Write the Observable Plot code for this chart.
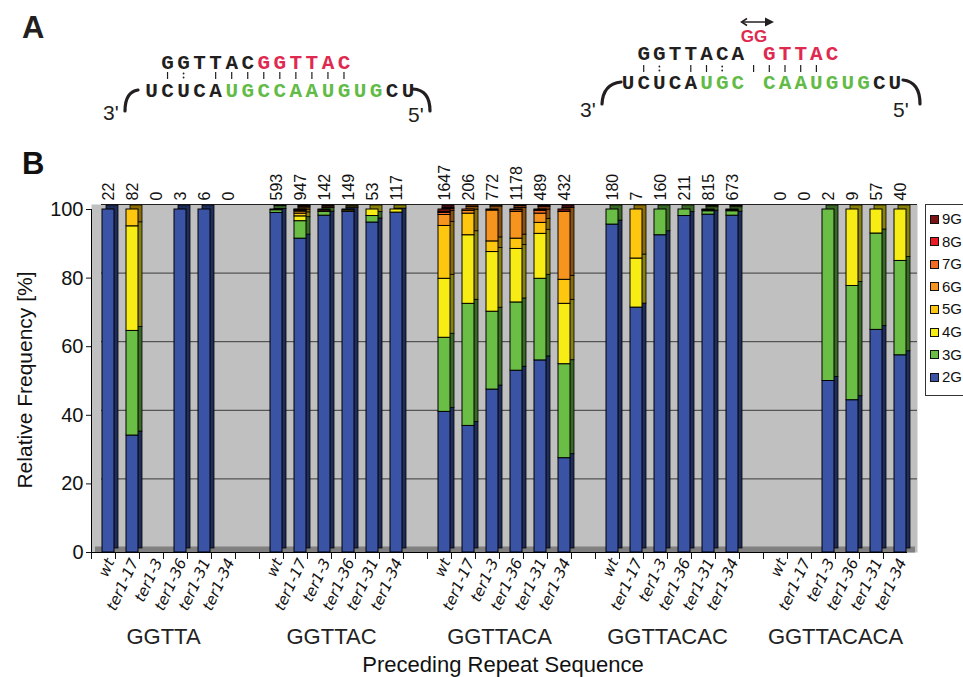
<!DOCTYPE html>
<html>
<head>
<meta charset="utf-8">
<script src="https://cdn.jsdelivr.net/npm/d3@7"></script>
<script src="https://cdn.jsdelivr.net/npm/@observablehq/plot@0.6"></script>
<style>
  html, body { margin: 0; padding: 0; background: #fff; }
  #page { position: relative; width: 963px; height: 677px; overflow: hidden; font-family: 'Liberation Sans', Arial, sans-serif; color: #111; }
  .abs { position: absolute; }
  .panel { font-weight: bold; font-size: 31px; }
  #legend { position: absolute; left: 925px; top: 204px; width: 50px; height: 192px; border: 1px solid #333; background: #fff; box-sizing: border-box; }
  .lg-row { position: absolute; left: 4px; font-size: 15px; line-height: 16px; height: 16px; display: flex; align-items: center; }
  .lg-sw { width: 7px; height: 7px; border: 1px solid #111; margin-right: 3px; }
</style>
</head>
<body>
<div id="page">
  <svg id="panelA" class="abs" style="left:0;top:0" width="963" height="150"></svg>
  <div id="chart" class="abs" style="left:0;top:150px"></div>
  <div class="abs panel" style="left:22px;top:146px">B</div>
  <div class="abs" style="left:25px;top:380px;transform:translate(-50%,-50%) rotate(-90deg);font-size:21px;white-space:nowrap">Relative Frequency [%]</div>
  <div class="abs" style="left:503px;top:665px;transform:translate(-50%,-50%);font-size:22px;white-space:nowrap">Preceding Repeat Sequence</div>
  <div id="legend"></div>
</div>
<script>
// ---------------- data ----------------
const groups = ["GGTTA", "GGTTAC", "GGTTACA", "GGTTACAC", "GGTTACACA"];
const strains = ["wt", "ter1-17", "ter1-3", "ter1-36", "ter1-31", "ter1-34"];
const sizes = ["2G", "3G", "4G", "5G", "6G", "7G", "8G", "9G"];
const sizeColors = ["#3a53a4", "#6abd45", "#f7ec13", "#fdc70f", "#f7941d", "#f26a24", "#ec1c24", "#7d1517"];

// number of sequenced junctions (labels above bars), group by group
const counts = [
  22, 82, 0, 3, 6, 0,
  593, 947, 142, 149, 53, 117,
  1647, 206, 772, 1178, 489, 432,
  180, 7, 160, 211, 815, 673,
  0, 0, 2, 9, 57, 40
];

// relative frequency [%] per G-run length, same order as counts
const p2G = [100, 34.1, 0, 100, 100, 0,   99.0, 91.5, 98.2, 99.3, 96.2, 99.1,   41.0, 36.9, 47.5, 53.0, 56.0, 27.5,   95.6, 71.4, 92.5, 98.1, 98.5, 98.2,   0, 0, 50, 44.4, 64.9, 57.5];
const p3G = [0, 30.5, 0, 0, 0, 0,         0.8, 5.1, 1.1, 0, 1.9, 0,             21.6, 35.6, 22.7, 19.9, 23.8, 27.4,   4.4, 0, 7.5, 1.9, 1.0, 1.3,           0, 0, 50, 33.3, 28.1, 27.5];
const p4G = [0, 30.5, 0, 0, 0, 0,         0.2, 1.4, 0, 0.4, 1.9, 0.9,           17.2, 20.0, 17.4, 15.6, 13.1, 17.6,   0, 14.3, 0, 0, 0.3, 0.3,              0, 0, 0, 22.3, 7.0, 15.0];
const p5G = [0, 4.9, 0, 0, 0, 0,          0, 0.8, 0, 0.3, 0, 0,                 15.4, 6.3, 3.1, 3.0, 3.2, 7.0,        0, 14.3, 0, 0, 0, 0,                  0, 0, 0, 0, 0, 0];
const p6G = [0, 0, 0, 0, 0, 0,            0, 0.6, 0, 0, 0, 0,                   3.2, 0.8, 9.0, 7.8, 2.7, 19.8,        0, 0, 0, 0, 0, 0,                     0, 0, 0, 0, 0, 0];
const p7G = [0, 0, 0, 0, 0, 0,            0, 0.3, 0.4, 0, 0, 0,                 0.6, 0.4, 0.3, 0.5, 0.8, 0,           0, 0, 0, 0, 0, 0,                     0, 0, 0, 0, 0, 0];
const p8G = [0, 0, 0, 0, 0, 0,            0, 0.2, 0, 0, 0, 0,                   0.3, 0, 0, 0.2, 0.2, 0,               0, 0, 0, 0, 0, 0,                     0, 0, 0, 0, 0, 0];
const p9G = [0, 0, 0, 0, 0, 0,            0, 0.1, 0.3, 0, 0, 0,                 0.7, 0, 0, 0, 0.2, 0.7,               0, 0, 0, 0, 0.2, 0.2,                 0, 0, 0, 0, 0, 0];

const yTicks = [0, 20, 40, 60, 80, 100];

// ---------------- tables ----------------
const pct = {"2G": p2G, "3G": p3G, "4G": p4G, "5G": p5G, "6G": p6G, "7G": p7G, "8G": p8G, "9G": p9G};
const keyOf = (g, s) => `${g}|${s}`;
const rows = [];
const countRows = [];
const xDomain = [];
groups.forEach((g, gi) => {
  if (gi > 0) xDomain.push(`gap${gi}`);
  strains.forEach((s, si) => {
    const k = gi * strains.length + si;
    xDomain.push(keyOf(g, s));
    countRows.push({key: keyOf(g, s), n: counts[k]});
    sizes.forEach(sz => {
      const v = pct[sz][k];
      if (v > 0) rows.push({key: keyOf(g, s), group: g, strain: s, size: sz, value: v});
    });
  });
});
const groupRows = groups.map(g => ({group: g, key: keyOf(g, strains[2])}));

// ---------------- chart ----------------
const chart = Plot.plot({
  width: 963,
  height: 527,
  marginTop: 59,
  marginBottom: 125,
  marginLeft: 91,
  marginRight: 56,
  style: {fontFamily: "'Liberation Sans', Arial, sans-serif", fontSize: "16px", background: "transparent", overflow: "visible", color: "#111"},
  x: {type: "band", domain: xDomain, paddingInner: 0.5, paddingOuter: 0.25},
  y: {domain: [0, 100]},
  color: {domain: sizes, range: sizeColors},
  marks: [
    Plot.frame({fill: "#c0c0c0", stroke: null, insetTop: -5, insetRight: -10}),
    Plot.ruleY([0], {stroke: "#808080", strokeWidth: 6, dy: -3, insetLeft: 4, insetRight: -8}),
    Plot.ruleY([20, 40, 60, 80], {stroke: "#3a3a3a", strokeWidth: 1, dy: -5, insetLeft: 10, insetRight: -10}),
    Plot.ruleY([100], {stroke: "#222", strokeWidth: 1, dy: -5, insetLeft: 10, insetRight: -10}),
    // 3D side/top faces
    Plot.barY(rows, {x: "key", y: "value", fill: "size", stroke: "#000", strokeWidth: 0.8, dx: 9, dy: -4}),
    Plot.barY(rows, {x: "key", y: "value", fill: "#000", fillOpacity: 0.45, dx: 9, dy: -4}),
    // front faces
    Plot.barY(rows, {x: "key", y: "value", fill: "size", stroke: "#000", strokeWidth: 1, dx: 5}),
    Plot.ruleY([0], {stroke: "#000", strokeWidth: 1}),
    Plot.ruleX([xDomain[0]], {stroke: "#000", strokeWidth: 1, dx: -12}),
    Plot.axisY({ticks: yTicks, tickSize: 5, tickPadding: 3, fontSize: 20, label: null}),
    Plot.axisX({tickSize: 7, tickFormat: () => "", dx: -12, label: null}),
    Plot.axisX({tickSize: 0, tickPadding: 7, tickRotate: -65, dx: 7, fontSize: 15,
      fontFamily: "'DejaVu Sans', Verdana, sans-serif", fontStyle: "italic",
      tickFormat: d => d.startsWith("gap") ? "" : d.split("|")[1], label: null}),
    Plot.text(countRows, {x: "key", text: d => String(d.n), frameAnchor: "top", rotate: -90,
      textAnchor: "start", lineAnchor: "middle", dx: 5, dy: -9, fontSize: 16, fill: "#111"}),
    Plot.text(groupRows, {x: "key", text: "group", frameAnchor: "bottom", dx: 12, dy: 84,
      lineAnchor: "middle", fontSize: 22, fill: "#222"})
  ]
});
document.getElementById("chart").appendChild(chart);

// ---------------- legend ----------------
const legend = document.getElementById("legend");
sizes.slice().reverse().forEach((sz, i) => {
  const row = document.createElement("div");
  row.className = "lg-row";
  row.style.top = (6 + i * 22.6) + "px";
  const sw = document.createElement("span");
  sw.className = "lg-sw";
  sw.style.background = sizeColors[sizes.indexOf(sz)];
  row.appendChild(sw);
  row.appendChild(document.createTextNode(sz));
  legend.appendChild(row);
});

// ---------------- panel A (schematic) ----------------
const colorMap = {k: "#231f20", g: "#62bb47", r: "#e0294f"};
const A = d3.select("#panelA");
A.append("text").attr("x", 22).attr("y", 38).attr("font-size", 31).attr("font-weight", "bold")
  .attr("font-family", "'Liberation Sans', Arial, sans-serif").attr("fill", "#231f20").text("A");

function seqLine(str, cols, x0, pitch, baseline) {
  [...str].forEach((ch, i) => {
    if (ch === " ") return;
    A.append("text").attr("x", x0 + pitch * i).attr("y", baseline)
      .attr("text-anchor", "middle").attr("font-family", "'Liberation Mono', 'DejaVu Sans Mono', monospace")
      .attr("font-weight", "bold").attr("font-size", 21).attr("fill", colorMap[cols[i]]).text(ch);
  });
}
function pairLine(str, x0, pitch, y1, y2) {
  [...str].forEach((ch, i) => {
    const x = x0 + pitch * i;
    if (ch === "|") A.append("line").attr("x1", x).attr("x2", x).attr("y1", y1).attr("y2", y2).attr("stroke", "#231f20").attr("stroke-width", 1.2);
    if (ch === ":") {
      A.append("circle").attr("cx", x).attr("cy", y1 + 1.5).attr("r", 0.9).attr("fill", "#231f20");
      A.append("circle").attr("cx", x).attr("cy", y2 - 1.5).attr("r", 0.9).attr("fill", "#231f20");
    }
  });
}
function label(txt, x, y) {
  A.append("text").attr("x", x).attr("y", y).attr("font-size", 21)
    .attr("font-family", "'Liberation Sans', Arial, sans-serif").attr("fill", "#231f20").text(txt);
}
function arc(d) {
  A.append("path").attr("d", d).attr("fill", "none").attr("stroke", "#231f20").attr("stroke-width", 3.2).attr("stroke-linecap", "round");
}
// left schematic
seqLine(" GGTTACGGTTAC", " kkkkkkrrrrrr", 151.5, 16.04, 68.5);
pairLine(" |: |||||||||", 151.5, 16.04, 72, 79);
seqLine("UCUCAUGCCAAUGUGCU", "kkkkkggggggggggkk", 151.5, 16.04, 96.5);
arc("M125,111 Q125,92 138,90");
arc("M413,89 Q430,90 430,111");
label("3'", 103, 120);
label("5'", 408, 122);
// right schematic
seqLine(" GGTTACA GTTAC", " kkkkkkk rrrrr", 628, 15.7, 60);
pairLine(" |: ||: |||||", 628, 15.7, 65, 72);
seqLine("UCUCAUGC CAAUGUGCU", "kkkkkggg gggggggkk", 628, 15.7, 88.5);
arc("M602,104 Q603,84 621,82");
arc("M903,80 Q920,82 920,104");
label("3'", 580, 117);
label("5'", 893, 117);
A.append("text").attr("x", 754).attr("y", 42).attr("text-anchor", "middle").attr("font-size", 17)
  .attr("font-weight", "bold").attr("font-family", "'Liberation Sans', Arial, sans-serif").attr("fill", colorMap.r).text("GG");
A.append("line").attr("x1", 742).attr("x2", 767).attr("y1", 22).attr("y2", 22).attr("stroke", "#231f20").attr("stroke-width", 1.5);
A.append("polyline").attr("points", "747,18.5 741.5,22 747,25.5").attr("fill", "none").attr("stroke", "#231f20").attr("stroke-width", 1.5);
A.append("polygon").attr("points", "765,17.5 774,22 765,26.5").attr("fill", "#231f20");
</script>
</body>
</html>
